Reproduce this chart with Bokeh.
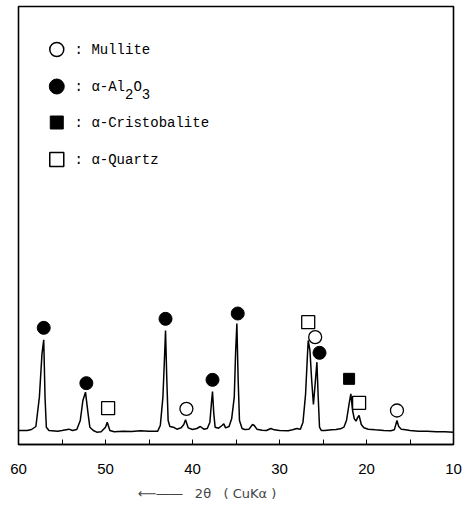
from bokeh.plotting import figure
from bokeh.models import Range1d, FixedTicker
from bokeh.core.properties import value
from bokeh.embed import file_html
from bokeh.resources import INLINE

# XRD pattern (2theta, intensity in arbitrary units)
two_theta = [60.0, 59.0, 58.5, 58.0, 57.6, 57.3, 57.1, 56.95, 56.8, 56.5, 55.5, 55.0, 54.2, 53.8,
             53.3, 52.9, 52.6, 52.3, 52.0, 51.8, 51.4, 51.0, 50.5, 50.0, 49.8, 49.5, 49.0, 48.0,
             47.0, 46.0, 45.0, 44.0, 43.7, 43.4, 43.2, 43.1, 42.95, 42.8, 42.6, 42.2, 41.8, 41.3,
             41.0, 40.8, 40.5, 40.0, 39.5, 39.1, 38.7, 38.3, 38.0, 37.8, 37.7, 37.55, 37.4, 37.0,
             36.6, 36.4, 36.2, 35.8, 35.5, 35.2, 35.05, 34.9, 34.75, 34.6, 34.3, 34.0, 33.5, 33.1,
             32.9, 32.6, 32.0, 31.5, 31.0, 30.6, 30.0, 29.0, 28.5, 28.0, 27.6, 27.3, 27.0, 26.8,
             26.7, 26.5, 26.3, 26.1, 25.9, 25.7, 25.55, 25.4, 25.2, 24.8, 24.0, 23.5, 23.0, 22.6,
             22.3, 22.0, 21.8, 21.6, 21.4, 21.2, 21.0, 20.85, 20.6, 20.3, 19.8, 19.0, 18.0, 17.2,
             16.8, 16.5, 16.3, 16.0, 15.5, 15.0, 14.0, 13.0, 12.0, 11.0, 10.0]
intensity = [100, 100, 103, 112, 200, 330, 372, 200, 110, 100, 98, 100, 104, 100,
             103, 130, 190, 215, 150, 110, 100, 95, 96, 110, 125, 100, 96, 98,
             97, 99, 98, 98, 115, 200, 330, 400, 250, 130, 112, 110, 104, 108,
             118, 132, 108, 103, 106, 112, 104, 106, 125, 190, 217, 150, 110, 107,
             115, 120, 108, 112, 135, 200, 330, 421, 250, 130, 106, 103, 104, 118,
             115, 104, 101, 100, 106, 102, 100, 99, 102, 106, 104, 125, 210, 320,
             370, 340, 250, 178, 240, 305, 200, 110, 100, 100, 102, 103, 105, 110,
             130, 180, 210, 160, 135, 128, 140, 145, 118, 108, 104, 102, 100, 99,
             102, 130, 112, 104, 102, 100, 98, 98, 96, 96, 95]

# Phase markers at peaks
mullite_x = [40.7, 25.9, 16.5]
mullite_y = [165, 380, 160]
alumina_x = [57.1, 52.2, 43.1, 37.7, 34.8, 25.4]
alumina_y = [408, 242, 435, 252, 451, 333]
cristobalite_x = [22.0]
cristobalite_y = [255]
quartz_x = [49.7, 26.7, 20.85]
quartz_y = [167, 425, 183]

x_ticks = [60, 50, 40, 30, 20, 10]
x_minor = [55, 45, 35, 25, 15]

p = figure(width=469, height=511, output_backend="svg", toolbar_location=None,
           x_range=Range1d(60, 10), y_range=Range1d(58, 1372),
           min_border_left=18, min_border_right=16, min_border_top=6, min_border_bottom=67)
p.grid.visible = False
p.yaxis.visible = False
p.outline_line_color = "black"
p.outline_line_width = 1.6
p.outline_line_alpha = 1

ax = p.xaxis[0]
ax.ticker = FixedTicker(ticks=x_ticks, minor_ticks=x_minor)
ax.axis_line_width = 1.6
ax.major_tick_in = 5
ax.major_tick_out = 0
ax.minor_tick_in = 5
ax.minor_tick_out = 0
ax.major_label_standoff = 19
ax.major_label_text_font = "Liberation Sans"
ax.major_label_text_font_size = "15px"
ax.major_label_text_color = "black"
nb = "\u00a0"
ax.axis_label = "\u27f5\u2015\u2015" + nb * 3 + "2θ" + nb * 3 + "(" + nb + "CuKα" + nb + ")" + nb * 14
ax.axis_label_text_font = "DejaVu Sans"
ax.axis_label_text_font_style = "normal"
ax.axis_label_text_font_size = "13px"
ax.axis_label_standoff = 9

p.line(two_theta, intensity, line_color="black", line_width=1.5)

p.scatter(mullite_x, mullite_y, marker="circle", size=13, fill_color="white", line_color="black", line_width=1.3)
p.scatter(alumina_x, alumina_y, marker="circle", size=13, fill_color="black", line_color="black")
p.scatter(cristobalite_x, cristobalite_y, marker="square", size=11, fill_color="black", line_color="black")
p.scatter(quartz_x, quartz_y, marker="square", size=13, fill_color="white", line_color="black", line_width=1.3)

# Legend drawn inside the frame
leg_mx = 55.6
leg_tx = 53.55
leg_y = [1243, 1132, 1024, 913]
mono = value("Liberation Mono")
p.scatter([leg_mx], [leg_y[0]], marker="circle", size=14, fill_color="white", line_color="black", line_width=1.5)
p.scatter([leg_mx], [leg_y[1]], marker="circle", size=15, fill_color="black", line_color="black")
p.scatter([leg_mx], [leg_y[2]], marker="square", size=13, fill_color="black", line_color="black")
p.scatter([leg_mx], [leg_y[3]], marker="square", size=14, fill_color="white", line_color="black", line_width=1.5)

fs = "14px"
cw = 8.4
p.text([leg_tx], [leg_y[0]], text=[": Mullite"], text_font=mono, text_font_size=fs, text_baseline="middle")
p.text([leg_tx], [leg_y[1]], text=[": α-Al"], text_font=mono, text_font_size=fs, text_baseline="middle")
p.text([leg_tx], [leg_y[1]], text=["2"], x_offset=6 * cw, y_offset=7, text_font=mono, text_font_size=fs, text_baseline="middle")
p.text([leg_tx], [leg_y[1]], text=["O"], x_offset=7 * cw, text_font=mono, text_font_size=fs, text_baseline="middle")
p.text([leg_tx], [leg_y[1]], text=["3"], x_offset=8 * cw, y_offset=7, text_font=mono, text_font_size=fs, text_baseline="middle")
p.text([leg_tx], [leg_y[2]], text=[": α-Cristobalite"], text_font=mono, text_font_size=fs, text_baseline="middle")
p.text([leg_tx], [leg_y[3]], text=[": α-Quartz"], text_font=mono, text_font_size=fs, text_baseline="middle")

open("out.html", "w").write(file_html(p, INLINE))
